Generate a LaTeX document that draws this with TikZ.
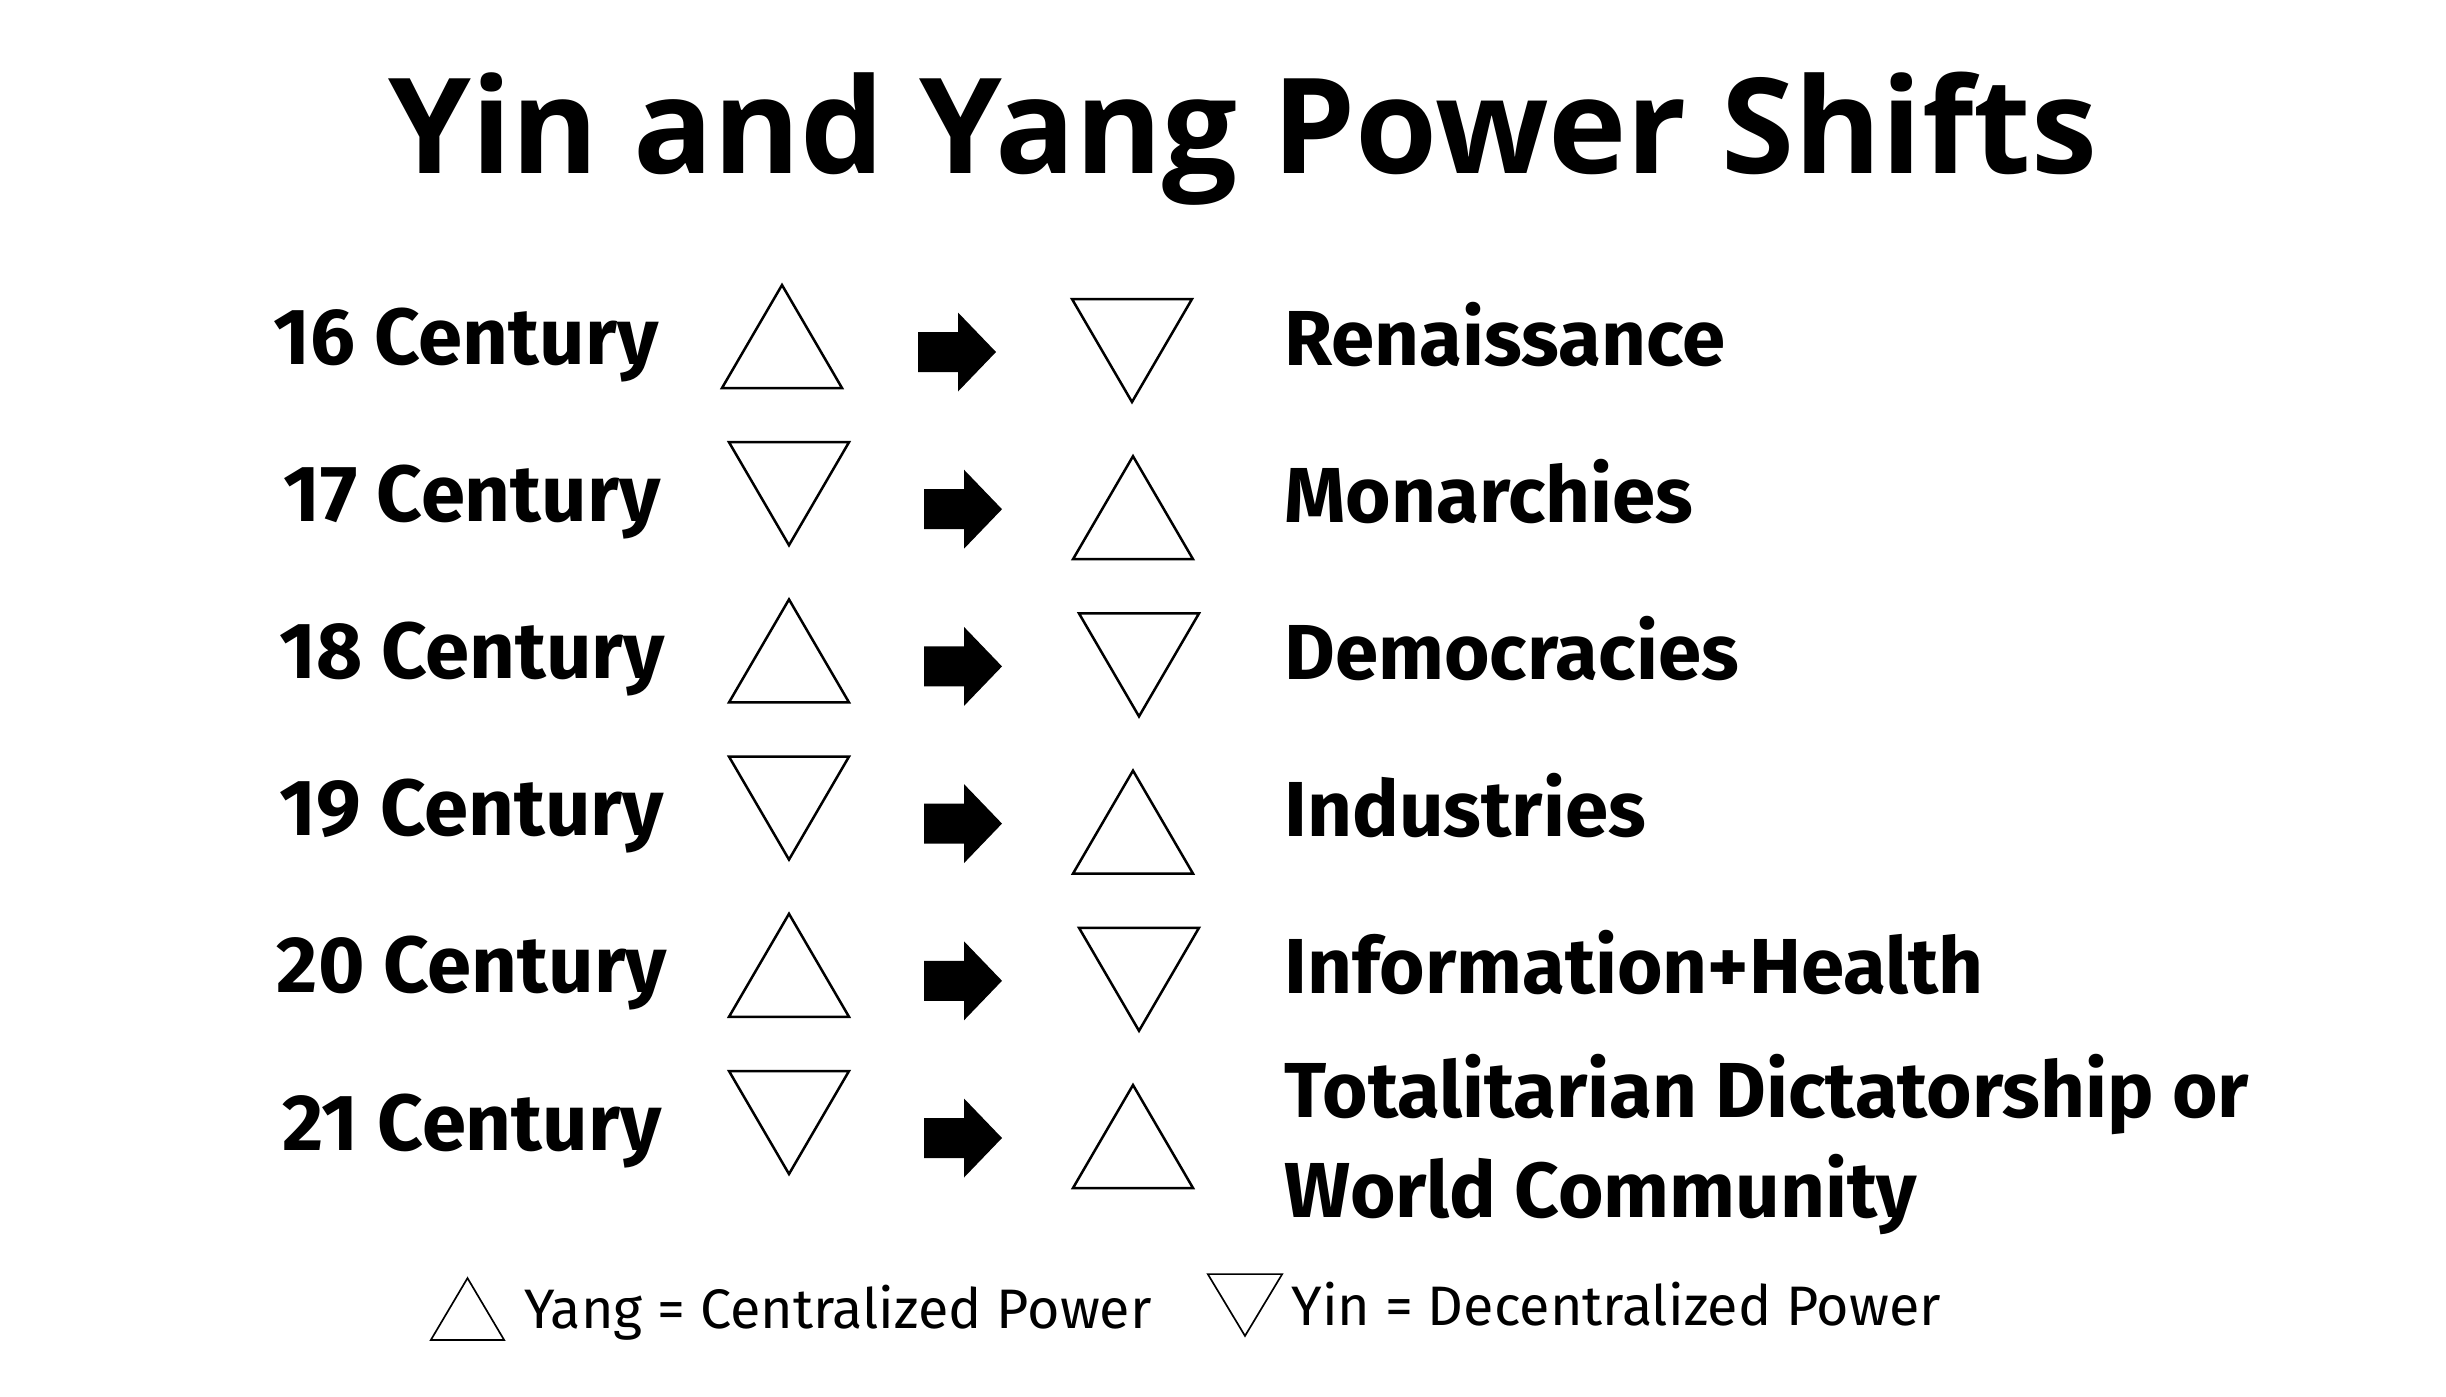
\documentclass[tikz,border=0pt]{standalone}
\usepackage{fontspec}
\setmainfont{Fira Sans}
\newfontfamily\titlefont{Open Sans}
\begin{document}
\begin{tikzpicture}[x=0.3pt,y=-0.3pt,
  tri/.style={draw=black,line width=0.75pt,line join=miter,fill=white},
  legtri/.style={draw=black,line width=0.5pt,fill=white},
  blockarrow/.style={fill=black,draw=none},
  titletext/.style={font=\titlefont\bfseries\fontsize{39.8}{44}\selectfont,inner sep=0pt,anchor=base},
  centtext/.style={font=\bfseries\fontsize{23.9}{27}\selectfont,inner sep=0pt,anchor=base},
  eratext/.style={font=\bfseries\fontsize{23.4}{27}\selectfont,inner sep=0pt,anchor=base west},
  legtext/.style={font=\fontsize{16.7}{19}\selectfont,inner sep=0pt,anchor=base west},
  yang/.pic={\path[pic actions] (-60,51.5) -- (0,-51.5) -- (60,51.5) -- cycle;},
  yin/.pic={\path[pic actions] (-60,-51.5) -- (0,51.5) -- (60,-51.5) -- cycle;},
  shift/.pic={\path[pic actions] (0,-20) -- (40,-20) -- (40,-39.5) -- (78,0) -- (40,39.5) -- (40,20) -- (0,20) -- cycle;}
]
\useasboundingbox[fill=white] (0,0) rectangle (2446,1397);

\node[titletext] (title) at (1243,173) {Yin and Yang Power Shifts};

% row baselines: 364, 521.2, 678.4, 835.6, 992.8, 1150
% Row 1
\node[centtext] (c16) at (466,364) {16 Century};
\pic[tri] at (782,336.5) {yang};
\pic[blockarrow] at (918,352) {shift};
\pic[tri] at (1132,350.5) {yin};
\node[eratext] (e16) at (1284,365) {Renaissance};
% Row 2
\node[centtext] (c17) at (472,521.2) {17 Century};
\pic[tri] at (789,493.7) {yin};
\pic[blockarrow] at (924,509.2) {shift};
\pic[tri] at (1133,507.7) {yang};
\node[eratext] (e17) at (1284,522.2) {Monarchies};
% Row 3
\node[centtext] (c18) at (472,678.4) {18 Century};
\pic[tri] at (789,650.9) {yang};
\pic[blockarrow] at (924,666.4) {shift};
\pic[tri] at (1139,664.9) {yin};
\node[eratext] (e18) at (1284,679.4) {Democracies};
% Row 4
\node[centtext] (c19) at (472,835.6) {19 Century};
\pic[tri] at (789,808.1) {yin};
\pic[blockarrow] at (924,823.6) {shift};
\pic[tri] at (1133,822.1) {yang};
\node[eratext] (e19) at (1284,836.6) {Industries};
% Row 5
\node[centtext] (c20) at (472,992.8) {20 Century};
\pic[tri] at (789,965.3) {yang};
\pic[blockarrow] at (924,980.8) {shift};
\pic[tri] at (1139,979.3) {yin};
\node[eratext] (e20) at (1284,993.8) {Information+Health};
% Row 6
\node[centtext] (c21) at (472,1150) {21 Century};
\pic[tri] at (789,1122.5) {yin};
\pic[blockarrow] at (924,1138) {shift};
\pic[tri] at (1133,1136.5) {yang};
\node[eratext] (e21a) at (1284,1117) {Totalitarian Dictatorship or};
\node[eratext] (e21b) at (1284,1217) {World Community};

% Legend
\pic[legtri,xscale=0.61,yscale=0.6] at (467.5,1309) {yang};
\node[legtext] (lyang) at (524,1328) {Yang = Centralized Power};
\pic[legtri,xscale=0.62,yscale=0.6] at (1245,1305) {yin};
\node[legtext] (lyin) at (1291,1325) {Yin = Decentralized Power};
\end{tikzpicture}
\end{document}
